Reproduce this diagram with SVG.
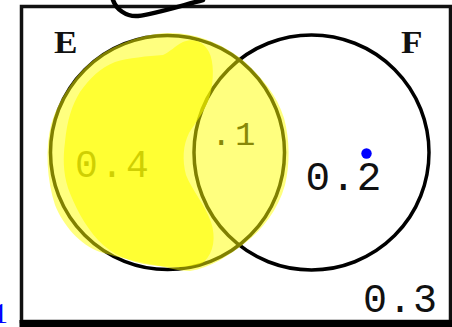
<svg xmlns="http://www.w3.org/2000/svg" width="452" height="327" viewBox="0 0 452 327">
<style>
.ring{fill:none;stroke:#000;stroke-width:3.5}
.num{font-family:"Liberation Mono","Courier New",monospace;fill:#111}
.lbl{font-family:"Liberation Serif","Times New Roman",serif;font-weight:bold;font-size:32px;fill:#111}
.hl{fill:#ffff00}
</style>
<rect width="452" height="327" fill="#fff"/>
<g id="frame">
<rect x="21.5" y="6.5" width="429" height="315" fill="none" stroke="#111" stroke-width="3.5"/>
<rect x="19.5" y="320" width="433" height="7" fill="#000"/>
</g>
<g id="set-E">
<circle class="ring" cx="167.5" cy="152.5" r="117"/>
<text class="lbl" x="54" y="53" transform="translate(54 53) scale(1.1 1) translate(-54 -53)">E</text>
<text class="num" x="75" y="177" font-size="38" letter-spacing="2.7">0.4</text>
</g>
<g id="set-F">
<circle class="ring" cx="311.5" cy="152.5" r="117.5"/>
<text class="lbl" x="401" y="53" transform="translate(401 53) scale(1.1 1) translate(-401 -53)">F</text>
<text class="num" x="305.5" y="190" font-size="41" letter-spacing="1">0.2</text>
</g>
<g id="intersection">
<text class="num" x="211" y="145" font-size="34" letter-spacing="3.6">.1</text>
</g>
<g id="outside">
<text class="num" x="363" y="312" font-size="40" letter-spacing="1">0.3</text>
</g>
<g id="highlight">
<path class="hl" fill-opacity="0.5" d="M170,33 C150,33 125,40 105,52 C80,67 60,95 51,125 C45,150 47,180 55,205 C63,225 80,245 100,252 C120,258 140,262 160,266 C170,268 178,271 190,271 C210,268 230,255 245,243 C262,230 278,210 285,185 C290,165 290,140 284,118 C277,95 262,78 245,62 C225,45 198,33 170,33 Z"/>
<path class="hl" fill-opacity="0.6" d="M65,142 C67,120 72,105 80,92 C90,78 100,68 115,62 C128,58 148,56 163,55 C170,52 175,46 183,42 C192,38 203,40 209,52 C214,62 214,80 210,95 C206,110 196,122 189,133 C183,145 182,160 186,175 C192,190 205,205 211,222 C216,237 214,252 204,262 C194,268 170,268 150,265 C130,262 112,255 98,240 C85,226 74,205 68,188 C63,172 63,157 65,142 Z"/>
</g>
<g id="marks">
<path d="M113,0 C116,9 126,17 138,16 C154,14 180,6 203,0" fill="none" stroke="#000" stroke-width="4.5" stroke-linecap="round"/>
<circle cx="366.5" cy="153.5" r="5.2" fill="#0000ff"/>
<text x="-7" y="323" font-family="Liberation Serif,serif" font-size="30" fill="#0000ff">1</text>
</g>
</svg>
